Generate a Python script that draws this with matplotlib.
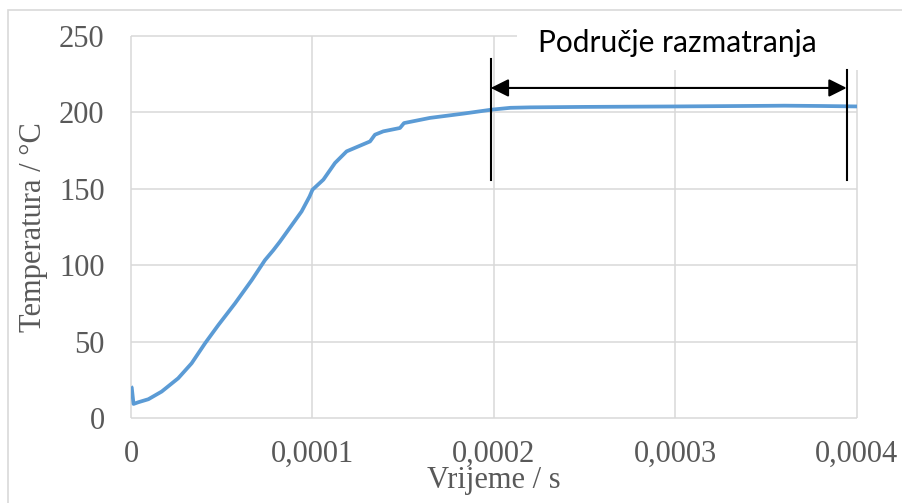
import matplotlib
matplotlib.use("Agg")
import matplotlib.pyplot as plt
from matplotlib.patches import Rectangle, FancyArrowPatch

# Vrijeme (s) i temperatura (°C)
t = [0.0, 0.0000004, 0.0000014, 0.000004, 0.0000096, 0.0000169, 0.000026,
     0.0000334, 0.0000408, 0.0000481, 0.0000573, 0.0000665, 0.0000738,
     0.0000784, 0.0000821, 0.000094, 0.0000984, 0.0001, 0.000106, 0.0001124,
     0.0001188, 0.0001317, 0.0001344, 0.000139, 0.0001482, 0.0001504,
     0.0001647, 0.0001831, 0.0001987, 0.000209, 0.00022, 0.00025, 0.0003,
     0.00035, 0.00036, 0.00038, 0.0004]
temp = [20.5, 20.0, 9.2, 10.3, 12.3, 17.3, 26.0,
        35.8, 48.9, 60.8, 75.0, 90.2, 103.3,
        109.8, 115.5, 135.2, 145.0, 149.4, 156.0, 166.9,
        174.5, 181.0, 185.4, 187.6, 189.8, 193.0,
        196.4, 199.2, 201.8, 203.0, 203.3, 203.6, 203.9,
        204.3, 204.4, 204.2, 203.9]

x_ticks = [0, 0.0001, 0.0002, 0.0003, 0.0004]
x_labels = ["0", "0,0001", "0,0002", "0,0003", "0,0004"]
y_ticks = [0, 50, 100, 150, 200, 250]

# Područje razmatranja
t_start, t_end = 0.0001982, 0.0003943

grid_c = "#D9D9D9"
text_c = "#595959"
serif = "Liberation Serif"

fig = plt.figure(figsize=(9.03, 5.03), dpi=100)
fig.patch.set_facecolor("white")
fig.patches.append(Rectangle((8 / 903, -0.1), 1.2, (503 - 9.5) / 503 + 0.1,
                             transform=fig.transFigure, fill=False,
                             edgecolor=grid_c, lw=1.2))

ax = fig.add_axes([131 / 903, 85 / 503, 726 / 903, 382 / 503])
ax.set_xlim(0, 0.0004)
ax.set_ylim(0, 250)
for s in ax.spines.values():
    s.set_visible(False)

# mreža
ax.vlines(x_ticks, 0, 250, colors=grid_c, lw=1.1, zorder=0, clip_on=False)
ax.hlines(y_ticks, 0, 0.0004, colors=grid_c, lw=1.1, zorder=0, clip_on=False)

ax.plot(t, temp, color="#5B9BD5", lw=2.7, zorder=3, solid_capstyle="butt")

ax.set_xticks(x_ticks)
ax.set_xticklabels(x_labels)
ax.set_yticks(y_ticks)
ax.tick_params(length=0, colors=text_c, labelsize=22)
ax.tick_params(axis="x", pad=16)
ax.tick_params(axis="y", pad=19)
for lab in ax.get_xticklabels() + ax.get_yticklabels():
    lab.set_fontfamily(serif)

ax.set_xlabel("Vrijeme / s", fontsize=22, family=serif, color=text_c)
ax.xaxis.set_label_coords(0.5, -0.125)
ax.set_ylabel("Temperatura / °C", fontsize=22, family=serif, color=text_c)
ax.yaxis.set_label_coords(-0.115, 0.5)

# okvir natpisa
ax.add_patch(Rectangle((0.0002127, 228.0), 0.00025, 40, facecolor="white",
                       edgecolor="none", zorder=1, clip_on=False))

ax.plot([t_start, t_start], [156, 235.2], color="black", lw=1.5, zorder=5, clip_on=False)
ax.plot([t_end, t_end], [156, 228.0], color="black", lw=1.5, zorder=5, clip_on=False)
ax.add_patch(FancyArrowPatch((t_start, 216), (t_end, 216),
                             arrowstyle="<|-|>,head_length=0.9,head_width=0.45",
                             mutation_scale=12, color="black", lw=1.5,
                             shrinkA=0, shrinkB=0, zorder=5, clip_on=False))
ax.text(0.0003008, 239.8, "Područje razmatranja", fontsize=21.5, family="Lato",
        color="black", ha="center", va="baseline", zorder=6, clip_on=False)

fig.savefig("out.png", dpi=100)
